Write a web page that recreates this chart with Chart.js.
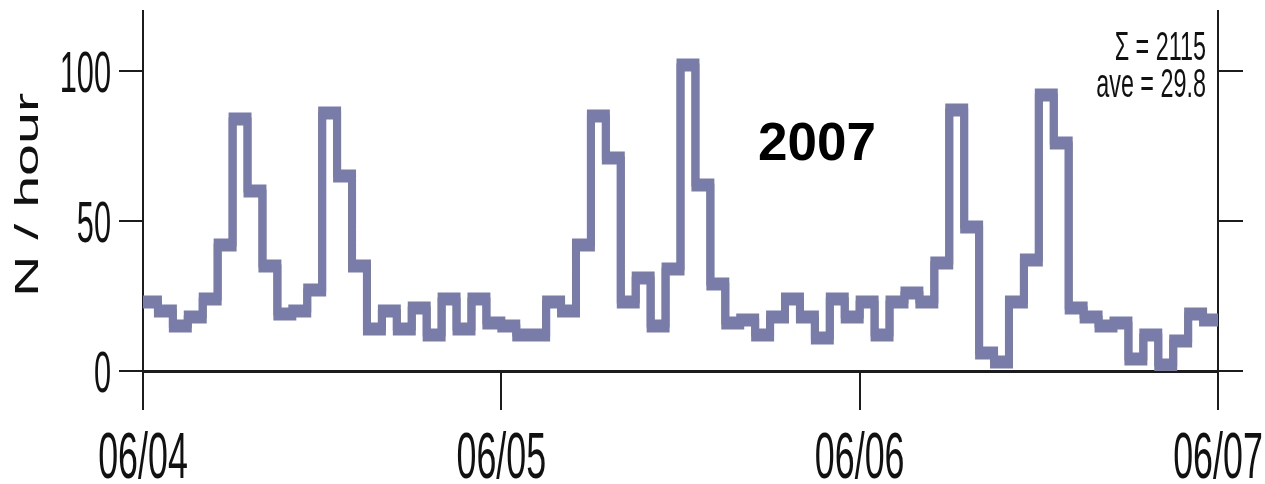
<!DOCTYPE html>
<html>
<head>
<meta charset="utf-8">
<script src="https://cdn.jsdelivr.net/npm/chart.js@4/dist/chart.umd.min.js"></script>
<style>
  html, body { margin: 0; padding: 0; background: #fff; }
  #wrap { width: 1265px; height: 484px; }
</style>
</head>
<body>
<div id="wrap"><canvas id="c" width="1265" height="484"></canvas></div>
<script>
// Hourly counts, 06/04 00:00 through 06/06 23:00 (72 one-hour bins)
const counts = [
  23, 20, 15, 18, 24, 42, 84, 60, 35, 19,
  20, 27, 86, 65, 35, 14, 20, 14, 21, 12,
  24, 14, 24, 16, 15, 12, 12, 23, 20, 42,
  85, 71, 23, 31, 15, 34, 102, 62, 29, 16,
  17, 12, 18, 24, 18, 11, 24, 18, 23, 12,
  23, 26, 23, 36, 87, 48, 6, 3, 23, 37,
  92, 76, 21, 18, 15, 16, 4, 12, 2, 10,
  19, 17
];
const hourIndex = counts.map((_, i) => i);
const dayTicks = [0, 24, 48, 72];
const dayLabels = ['06/04', '06/05', '06/06', '06/07'];
const yTicks = [0, 50, 100];
const yTickLabels = ['0', '50', '100'];
const yTitle = 'N / hour';
const yearLabel = '2007';
const statsLines = ['\u03A3 = 2115', 'ave = 29.8'];

// step points: each bin starts at its hour; a closing point ends the last bin
const stepPoints = hourIndex.map((h, i) => ({ x: h, y: counts[i] }))
  .concat([{ x: hourIndex.length, y: counts[counts.length - 1] }]);

const LINE = 'rgb(121,124,168)';
const AXIS = '#1c1c1c';
const FONT = '"Liberation Sans", Arial, Helvetica, sans-serif';

// draws text squeezed horizontally (tall, narrow lettering)
function narrowText(ctx, text, x, y, align, font, sx) {
  ctx.save();
  ctx.translate(x, y);
  ctx.scale(sx, 1);
  ctx.font = font;
  ctx.textAlign = align;
  ctx.textBaseline = 'alphabetic';
  ctx.fillText(text, 0, 0);
  ctx.restore();
}

// the trace is stroked twice, shifted up and down, giving flat runs a heavier weight than the risers
const doubleStroke = {
  id: 'doubleStroke',
  beforeDatasetDraw(chart, args) {
    const { ctx, chartArea: a } = chart;
    ctx.save();
    ctx.beginPath();
    ctx.rect(a.left, a.top - 20, a.right - a.left, a.bottom - a.top + 20);
    ctx.clip();
    ctx.translate(0, args.index === 0 ? -2.5 : 2.5);
  },
  afterDatasetDraw(chart) {
    chart.ctx.restore();
  }
};

const annotations = {
  id: 'annotations',
  afterDraw(chart) {
    const { ctx, chartArea: a, scales: { x, y } } = chart;
    ctx.save();
    ctx.fillStyle = '#111';

    // y tick labels
    yTicks.forEach((v, i) => {
      narrowText(ctx, yTickLabels[i], a.left - 32, y.getPixelForValue(v) + 21, 'right', '58px ' + FONT, 0.53);
    });
    // x tick labels
    dayTicks.forEach((v, i) => {
      narrowText(ctx, dayLabels[i], x.getPixelForValue(v), a.bottom + 107, 'center', '64px ' + FONT, 0.56);
    });

    // stats, top right
    narrowText(ctx, statsLines[0], a.right - 12, 60, 'right', '41px ' + FONT, 0.57);
    narrowText(ctx, statsLines[1], a.right - 12, 97, 'right', '41px ' + FONT, 0.57);

    // axis title, rotated and stretched along its length
    ctx.save();
    ctx.font = '34px ' + FONT;
    const w = ctx.measureText(yTitle).width;
    ctx.translate(38, 195);
    ctx.rotate(-Math.PI / 2);
    ctx.scale(204 / w, 1);
    ctx.textAlign = 'center';
    ctx.textBaseline = 'alphabetic';
    ctx.fillText(yTitle, 0, 0);
    ctx.restore();

    // year
    ctx.font = 'bold 53px ' + FONT;
    ctx.textAlign = 'center';
    ctx.textBaseline = 'alphabetic';
    ctx.fillStyle = '#000';
    ctx.fillText(yearLabel, 817, 160);

    ctx.restore();
  }
};

const traceStyle = {
  stepped: 'before',
  borderColor: LINE,
  borderWidth: 8,
  borderJoinStyle: 'miter',
  borderCapStyle: 'butt',
  pointRadius: 0,
  fill: false,
  clip: false
};

const setTicks = (vals) => (scale) => { scale.ticks = vals.map(v => ({ value: v })); };

new Chart(document.getElementById('c'), {
  type: 'line',
  data: {
    datasets: [
      Object.assign({ data: stepPoints }, traceStyle),
      Object.assign({ data: stepPoints }, traceStyle)
    ]
  },
  options: {
    responsive: false,
    animation: false,
    events: [],
    layout: { padding: { top: 11, left: 0, right: 0, bottom: 0 } },
    plugins: { legend: { display: false }, tooltip: { enabled: false } },
    scales: {
      x: {
        type: 'linear', min: 0, max: 72,
        afterBuildTicks: setTicks(dayTicks),
        afterFit: (s) => { s.height = 113; },
        ticks: { display: false },
        grid: { drawOnChartArea: false, tickLength: 39, color: AXIS, lineWidth: 2 },
        border: { display: true, color: AXIS, width: 3 }
      },
      y: {
        position: 'left', min: 0, max: 120,
        afterBuildTicks: setTicks(yTicks),
        afterFit: (s) => { s.width = 143; },
        ticks: { display: false },
        grid: { drawOnChartArea: false, tickLength: 24, color: AXIS, lineWidth: 2 },
        border: { display: true, color: AXIS, width: 2 }
      },
      y2: {
        position: 'right', min: 0, max: 120,
        afterBuildTicks: setTicks(yTicks),
        afterFit: (s) => { s.width = 47; },
        ticks: { display: false },
        grid: { drawOnChartArea: false, tickLength: 25, color: AXIS, lineWidth: 2 },
        border: { display: true, color: AXIS, width: 2 }
      }
    }
  },
  plugins: [doubleStroke, annotations]
});
</script>
</body>
</html>
